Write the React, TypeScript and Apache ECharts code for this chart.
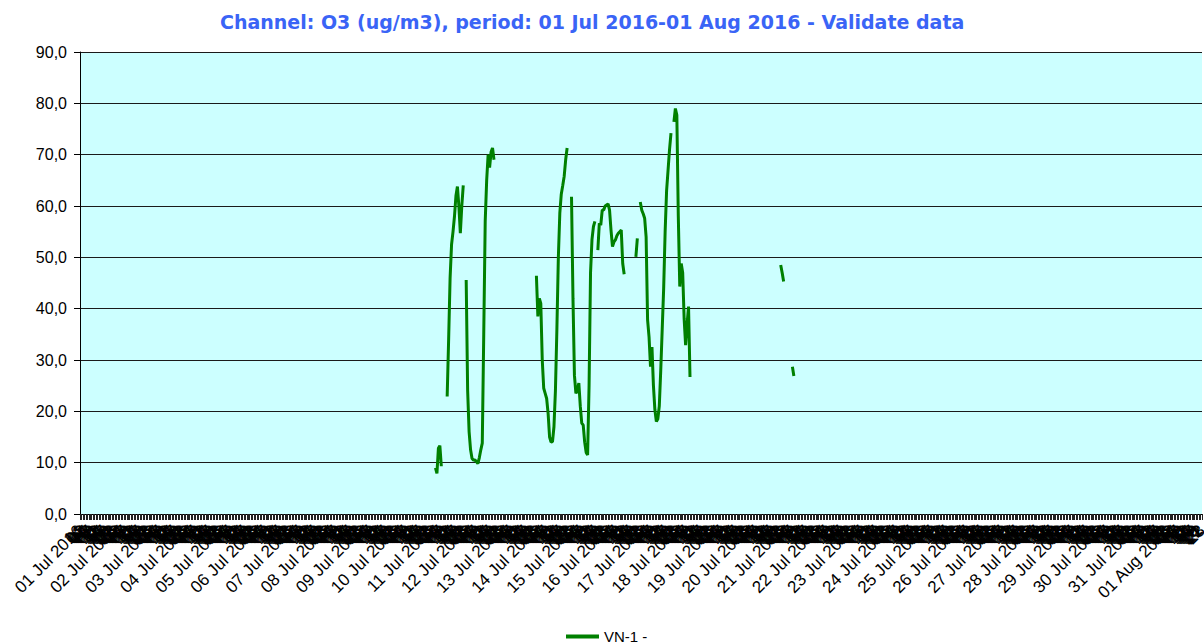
import React, { useEffect, useRef } from "react";
import * as echarts from "echarts";

// ---- data ----
const START_UTC = Date.UTC(2016, 6, 1, 0, 0);
const HOUR_COUNT = 768;
const MONTHS = ["Jan", "Feb", "Mar", "Apr", "May", "Jun", "Jul", "Aug", "Sep", "Oct", "Nov", "Dec"];
const yTicks = [0, 10, 20, 30, 40, 50, 60, 70, 80, 90];

// hourly O3 segments: start hour index (from 01 Jul 2016 00:00) and values
const segStarts = [243, 251, 264, 312, 336, 354, 380, 383, 406, 479, 487];
const seg1 = [9.0, 7.9, 12.8, 13.3, 9.3];
const seg2 = [22.9, 34, 46, 52.5, 55, 58, 62, 63.8, 60, 54.7, 60, 64];
const seg3 = [45.6, 24, 16, 12.5, 10.8, 10.5, 10.5, 10.2, 9.8, 11, 12.5, 13.8, 35, 57, 65, 70, 67.5, 70.5, 71.3, 69];
const seg4 = [46.4, 38.5, 42, 41, 30, 24.5, 23.5, 22.5, 19.6, 15, 14, 14.1, 17, 24, 36, 50, 58.6, 62.3, 64, 65.8, 69, 71.3];
const seg5 = [61.8, 42, 27, 23.5, 24, 25.5, 21, 17.7, 17.3, 14, 12, 11.5, 25, 47, 53.5, 56, 57];
const seg6 = [51.4, 56.6, 56.3, 59.2, 59.2, 60, 60.2, 60.4, 59.2, 55.3, 52.1, 53, 53.4, 54.2, 54.7, 55, 55.3, 48.8, 46.7];
const seg7 = [50.1, 53.7];
const seg8 = [60.8, 59.2, 58.5, 57.6, 54, 37.8, 34.5, 28.7, 32.5, 25, 20.3, 18, 18.5, 21, 28, 36, 44, 55, 63, 67, 71, 74.2];
const seg9 = [76.4, 79, 77.7, 58, 44.3, 48.8, 47, 38, 32.9, 37, 40.4, 26.7];
const seg10 = [48.5, 47, 45.3];
const seg11 = [28.7, 26.9];
const segments = [seg1, seg2, seg3, seg4, seg5, seg6, seg7, seg8, seg9, seg10, seg11];

function pad(n: number) {
  return n < 10 ? "0" + n : "" + n;
}

const categories: string[] = Array.from({ length: HOUR_COUNT }, (_, h) => {
  const d = new Date(START_UTC + h * 3600 * 1000);
  const hh = d.getUTCHours();
  if (hh === 0) {
    return `${pad(d.getUTCDate())} ${MONTHS[d.getUTCMonth()]} ${d.getUTCFullYear()}`;
  }
  return pad(hh);
});

const values: (number | null)[] = new Array(HOUR_COUNT).fill(null);
segments.forEach((seg, i) => {
  seg.forEach((v, j) => {
    values[segStarts[i] + j] = v;
  });
});

export default function App() {
  const ref = useRef<HTMLDivElement>(null);
  useEffect(() => {
    if (!ref.current) return;
    const chart = echarts.init(ref.current, undefined, { renderer: "svg" });
    chart.setOption({
      animation: false,
      backgroundColor: "#ffffff",
      title: {
        text: "Channel: O3 (ug/m3), period: 01 Jul 2016-01 Aug 2016 - Validate data",
        left: 215,
        top: 7,
        textStyle: {
          fontFamily: "DejaVu Sans",
          fontWeight: "bold",
          fontSize: 19,
          color: "#3A64F6",
        },
      },
      legend: {
        data: ["VN-1 -"],
        left: 561,
        top: 624,
        itemWidth: 33,
        itemHeight: 4,
        itemGap: 4,
        icon: "rect",
        textStyle: { fontFamily: "Liberation Sans", fontSize: 15, color: "#000" },
      },
      grid: {
        left: 80,
        top: 52,
        right: 2,
        bottom: 128,
        show: true,
        backgroundColor: "#CCFFFF",
        borderWidth: 0,
        outerBoundsMode: "none",
        containLabel: false,
      },
      xAxis: {
        type: "category",
        data: categories,
        boundaryGap: false,
        axisLine: { show: true, lineStyle: { color: "#000", width: 1 } },
        axisTick: { show: true, interval: 0, length: 6, lineStyle: { color: "#222", width: 1 } },
        axisLabel: {
          interval: 0,
          rotate: 45,
          margin: 14,
          fontFamily: "Liberation Sans",
          fontSize: 17,
          color: "#000",
        },
        splitLine: { show: false },
      },
      yAxis: {
        type: "value",
        min: yTicks[0],
        max: yTicks[yTicks.length - 1],
        interval: 10,
        axisLine: { show: true, lineStyle: { color: "#000", width: 1 } },
        axisTick: { show: true, length: 6, lineStyle: { color: "#000" } },
        axisLabel: {
          fontFamily: "Liberation Sans",
          fontSize: 16,
          color: "#000",
          margin: 13,
          formatter: (v: number) => v.toFixed(1).replace(".", ","),
        },
        splitLine: { show: true, lineStyle: { color: "#1a1a1a", width: 1 } },
      },
      series: [
        {
          name: "VN-1 -",
          type: "line",
          data: values,
          connectNulls: false,
          showSymbol: false,
          symbol: "none",
          lineStyle: { color: "#008000", width: 3 },
          itemStyle: { color: "#008000" },
        },
      ],
    });
    return () => chart.dispose();
  }, []);
  return (
    <div
      ref={ref}
      style={{ position: "fixed", left: 0, top: 0, width: 1204, height: 642 }}
    />
  );
}
